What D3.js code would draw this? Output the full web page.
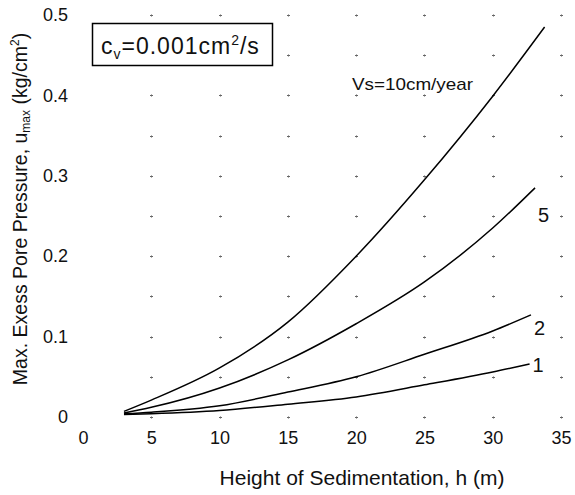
<!DOCTYPE html>
<html><head><meta charset="utf-8">
<script src="https://cdn.jsdelivr.net/npm/d3@7"></script>
<style>body{margin:0;background:#fff}svg{display:block}text{font-family:"Liberation Sans",Arial,sans-serif;fill:#111}</style>
</head><body><svg id="c" width="575" height="495"></svg>
<script>
const xTicks = [0,5,10,15,20,25,30,35];
const yTicks = [0,0.1,0.2,0.3,0.4,0.5];
const yTickLabels = ["0","0.1","0.2","0.3","0.4","0.5"];
const heights = [3,5,10,15,20,25,30];
const seriesNames = ["10","5","2","1"];
const u10 = [0.007,0.021,0.061,0.118,0.200,0.295,0.399];
const u5  = [0.005,0.012,0.036,0.071,0.116,0.168,0.235];
const u2  = [0.004,0.006,0.014,0.031,0.050,0.078,0.107];
const u1  = [0.003,0.004,0.008,0.016,0.025,0.040,0.056];
const endH = [33.8,33.1,32.8,32.7];
const endU = [0.485,0.285,0.127,0.066];
const curveLabels = ["", "5","2","1"];

const svg = d3.select("#c");
const x = d3.scaleLinear().domain([0,35]).range([83,561]);
const y = d3.scaleLinear().domain([0,0.5]).range([417,15]);

// grid marks
const gx = [5,10,15,20,25,30,35];
const gy = d3.range(0,11).map(i=>i*0.05);
const g = svg.append("g").attr("stroke","#666").attr("stroke-width",1);
gx.forEach(a=>gy.forEach(b=>{
  const px=Math.round(x(a))+0.5, py=Math.round(y(b))+0.5;
  g.append("line").attr("x1",px-1.5).attr("x2",px+1.5).attr("y1",py).attr("y2",py);
  g.append("line").attr("x1",px).attr("x2",px).attr("y1",py-1).attr("y2",py+1);
}));

// axes (tick labels only)
const xa = svg.append("g").attr("transform","translate(0,423)")
  .call(d3.axisBottom(x).tickValues(xTicks).tickSize(0).tickPadding(8).tickFormat(d3.format("d")));
xa.select(".domain").remove();
xa.selectAll("text").style("font-size","18px").style("font-family","Liberation Sans, Arial, sans-serif");
const ya = svg.append("g").attr("transform","translate(70,0)")
  .call(d3.axisLeft(y).tickValues(yTicks).tickSize(0).tickPadding(2).tickFormat((d,i)=>yTickLabels[i]));
ya.select(".domain").remove();
ya.selectAll("text").style("font-size","18px").style("font-family","Liberation Sans, Arial, sans-serif");

// curves
const all = [u10,u5,u2,u1];
const line = d3.line().x(d=>x(d[0])).y(d=>y(d[1])).curve(d3.curveMonotoneX);
all.forEach((s,i)=>{
  const pts = heights.map((h,j)=>[h,s[j]]).concat([[endH[i],endU[i]]]);
  svg.append("path").attr("d",line(pts)).attr("fill","none").attr("stroke","#000").attr("stroke-width",1.5);
  if (curveLabels[i]) {
    svg.append("text").attr("x",x(endH[i])+3).attr("y",y(endU[i])+ (i===3?8:(i===2?20:34)))
      .style("font-size","20px").text(curveLabels[i]);
  }
});

// annotations
svg.append("text").attr("x",352).attr("y",90).style("font-size","17px")
  .attr("textLength",121).attr("lengthAdjust","spacingAndGlyphs").text("Vs=10cm/year");

svg.append("rect").attr("x",92.5).attr("y",23.5).attr("width",180).attr("height",42)
  .attr("fill","#fff").attr("stroke","#000").attr("stroke-width",1.5);
const bt = svg.append("text").attr("x",101).attr("y",54).style("font-size","23px").style("letter-spacing","1px");
bt.append("tspan").text("c");
bt.append("tspan").attr("dy",5).style("font-size","14px").text("v");
bt.append("tspan").attr("dy",-5).text("=0.001cm");
bt.append("tspan").attr("dy",-9).style("font-size","14px").text("2");
bt.append("tspan").attr("dy",9).text("/s");

// axis titles
svg.append("text").attr("x",362).attr("y",485).attr("text-anchor","middle")
  .style("font-size","21px").text("Height of Sedimentation, h (m)");
const yt = svg.append("text").attr("transform","translate(27,209) rotate(-90)")
  .attr("text-anchor","middle").style("font-size","19.5px");
yt.append("tspan").text("Max. Exess Pore Pressure, u");
yt.append("tspan").attr("dy",3).style("font-size","12px").text("max");
yt.append("tspan").attr("dy",-3).text(" (kg/cm");
yt.append("tspan").attr("dy",-8).style("font-size","12px").text("2");
yt.append("tspan").attr("dy",8).text(")");
</script></body></html>
